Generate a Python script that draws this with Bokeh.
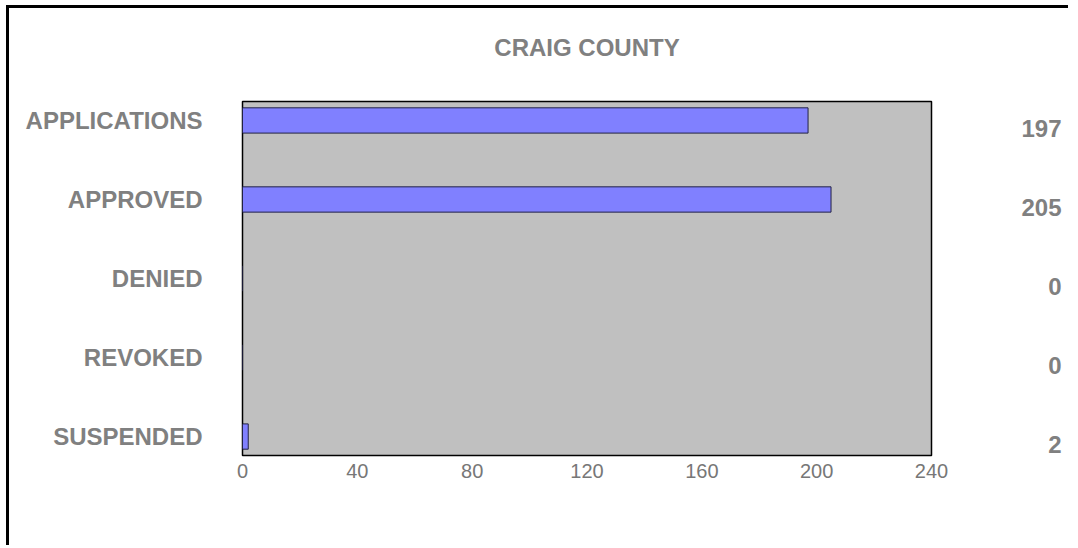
from bokeh.plotting import figure
from bokeh.models import ColumnDataSource, Range1d, FixedTicker, LinearAxis
from bokeh.embed import file_html
from bokeh.resources import INLINE

chart_title = "CRAIG COUNTY"
categories = ["APPLICATIONS", "APPROVED", "DENIED", "REVOKED", "SUSPENDED"]
values = [197, 205, 0, 0, 2]
x_ticks = [0, 40, 80, 120, 160, 200, 240]

pos = list(range(len(categories)))
src = ColumnDataSource(dict(y=pos, v=values))

FONT = "Liberation Sans"
GRAY = "#808080"
PAD = 0.24
SHIFT = 0.10
NBSP = "\u00a0"

W, H = 1062, 540
p = figure(width=W, height=H, output_backend="svg", toolbar_location=None,
           x_range=Range1d(x_ticks[0], x_ticks[-1]),
           y_range=Range1d(len(categories) - 1 + PAD, -PAD),
           min_border_left=233, min_border_right=W - 922,
           min_border_top=93, min_border_bottom=H - 447)

p.styles = {"margin-left": "6px", "margin-top": "5px",
            "border-left": "3px solid black", "border-top": "3px solid black"}

p.background_fill_color = "#C0C0C0"
p.border_fill_color = "white"
p.outline_line_color = "black"
p.outline_line_width = 1.5
p.xgrid.grid_line_color = None
p.ygrid.grid_line_color = None

p.hbar(y="y", left=0, right="v", height=0.32, source=src,
       fill_color="#8080FF", line_color="#222244", line_width=1)


def plain_axis(ax, size, bold, standoff, color):
    ax.axis_line_color = None
    ax.major_tick_line_color = None
    ax.minor_tick_line_color = None
    ax.major_tick_out = 0
    ax.major_tick_in = 0
    ax.minor_tick_out = 0
    ax.minor_tick_in = 0
    ax.major_label_text_font = FONT
    ax.major_label_text_font_size = size
    ax.major_label_text_font_style = "bold" if bold else "normal"
    ax.major_label_text_color = color
    ax.major_label_standoff = standoff


xa = p.xaxis[0]
xa.ticker = FixedTicker(ticks=x_ticks)
plain_axis(xa, "20px", False, 8, "#777777")

ya = p.yaxis[0]
ya.ticker = FixedTicker(ticks=pos)
ya.major_label_overrides = {i: c for i, c in zip(pos, categories)}
plain_axis(ya, "24px", True, 40, GRAY)

# chart title, centred over the plot area
mid = (x_ticks[0] + x_ticks[-1]) / 2
ta = LinearAxis()
ta.ticker = FixedTicker(ticks=[mid])
ta.major_label_overrides = {mid: chart_title}
plain_axis(ta, "24px", True, 41, GRAY)
p.add_layout(ta, "above")

# value labels on the right, on a slightly shifted range, right-aligned by padding
width = max(len(str(v)) for v in values)
p.extra_y_ranges = {"vals": Range1d(len(categories) - 1 + PAD - SHIFT, -PAD - SHIFT)}
ra = LinearAxis(y_range_name="vals")
ra.ticker = FixedTicker(ticks=pos)
ra.major_label_overrides = {i: NBSP * (2 * (width - len(str(v)))) + str(v)
                            for i, v in zip(pos, values)}
plain_axis(ra, "24px", True, 90, GRAY)
p.add_layout(ra, "right")

open("out.html", "w").write(file_html(p, INLINE))
